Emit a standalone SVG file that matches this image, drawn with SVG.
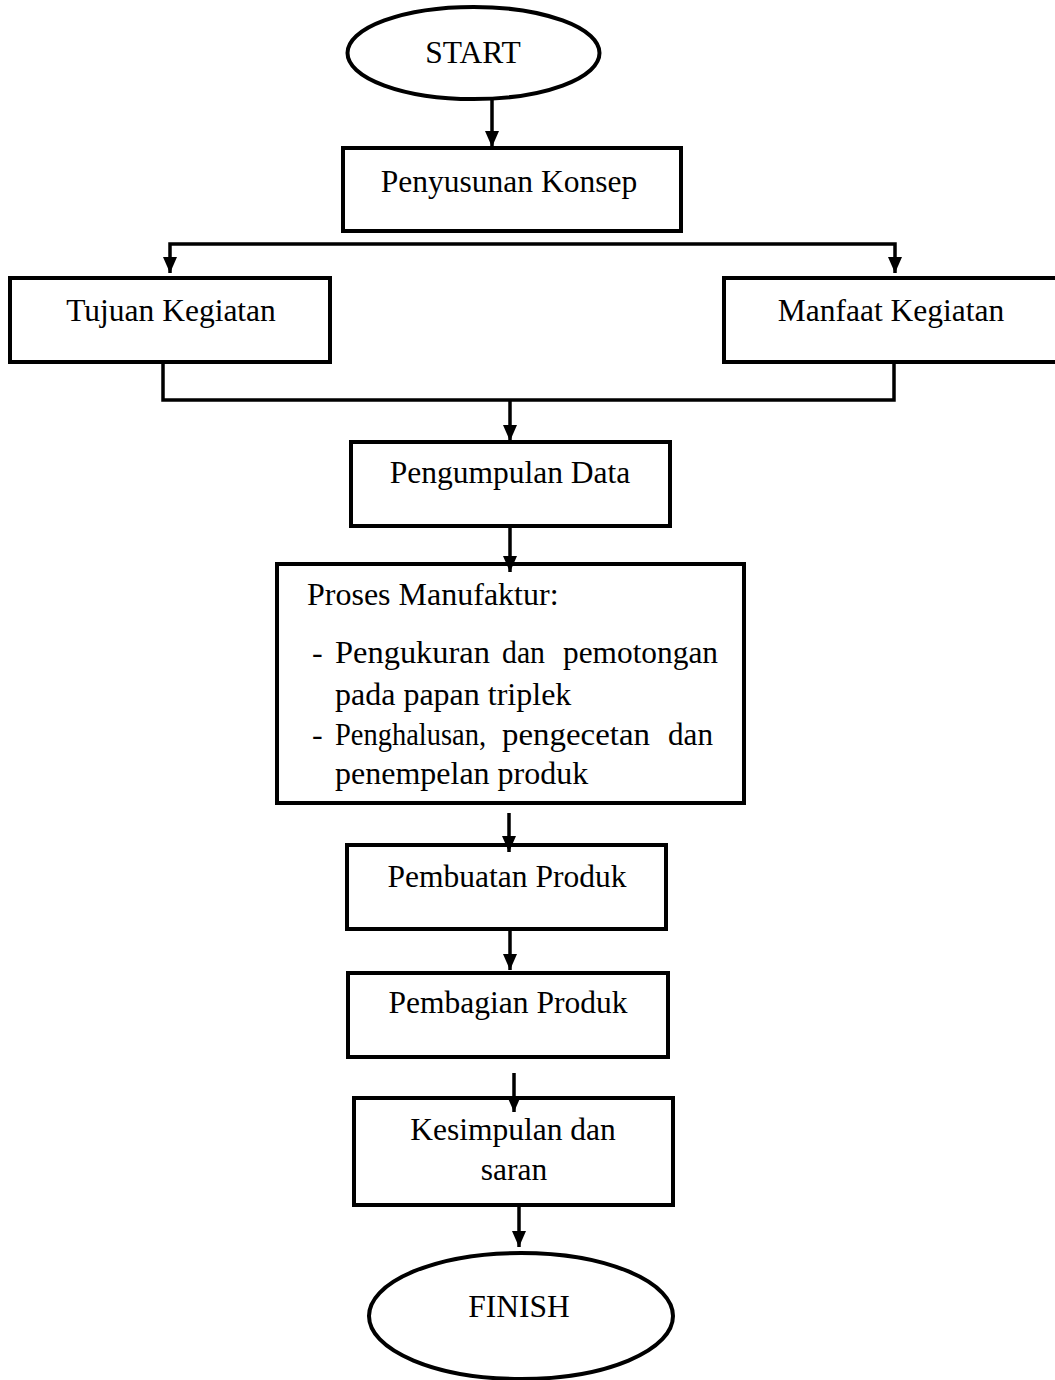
<svg xmlns="http://www.w3.org/2000/svg" width="1055" height="1380" viewBox="0 0 1055 1380">
<style>
.box{fill:#fff;stroke:#000;stroke-width:4}
.t{font-family:'Liberation Serif','Times New Roman','DejaVu Serif',serif;font-size:31.5px;fill:#000}
.p{font-size:32px}
.c{text-anchor:middle}
.ln{fill:none;stroke:#000;stroke-width:3.5}
</style>
<defs>
<marker id="ah" viewBox="0 0 16 14" refX="16" refY="7" markerWidth="16" markerHeight="14" markerUnits="userSpaceOnUse" orient="auto">
<path d="M0,0 L16,7 L0,14 z" fill="#000"/>
</marker>
</defs>
<rect width="1055" height="1380" fill="#fff"/>
<g id="start">
<ellipse class="box" cx="473.5" cy="53" rx="126" ry="46"/>
<text class="t c" x="473" y="63">START</text>
</g>
<g id="penyusunan">
<rect class="box" x="343" y="148" width="338" height="83"/>
<text class="t c" x="509" y="192">Penyusunan Konsep</text>
</g>
<g id="tujuan">
<rect class="box" x="10" y="278" width="320" height="84"/>
<text class="t c" x="171" y="321">Tujuan Kegiatan</text>
</g>
<g id="manfaat">
<rect class="box" x="724" y="278" width="340" height="84"/>
<text class="t c" x="891" y="321">Manfaat Kegiatan</text>
</g>
<g id="pengumpulan">
<rect class="box" x="351" y="442" width="319" height="84"/>
<text class="t c" x="510" y="483">Pengumpulan Data</text>
</g>
<g id="proses">
<rect class="box" x="277" y="564" width="467" height="239"/>
<text class="t p" x="307" y="605">Proses Manufaktur:</text>
<text class="t p" x="312" y="663">-</text>
<text class="t p" x="335" y="663" textLength="155" lengthAdjust="spacingAndGlyphs">Pengukuran</text>
<text class="t p" x="502" y="663" textLength="43" lengthAdjust="spacingAndGlyphs">dan</text>
<text class="t p" x="563" y="663" textLength="155" lengthAdjust="spacingAndGlyphs">pemotongan</text>
<text class="t p" x="335" y="705">pada papan triplek</text>
<text class="t p" x="312" y="745">-</text>
<text class="t p" x="335" y="745" textLength="151" lengthAdjust="spacingAndGlyphs">Penghalusan,</text>
<text class="t p" x="502" y="745" textLength="148" lengthAdjust="spacingAndGlyphs">pengecetan</text>
<text class="t p" x="668" y="745" textLength="45" lengthAdjust="spacingAndGlyphs">dan</text>
<text class="t p" x="335" y="784">penempelan produk</text>
</g>
<g id="pembuatan">
<rect class="box" x="347" y="845" width="319" height="84"/>
<text class="t c" x="507" y="887">Pembuatan Produk</text>
</g>
<g id="pembagian">
<rect class="box" x="348" y="973" width="320" height="84"/>
<text class="t c" x="508" y="1013">Pembagian Produk</text>
</g>
<g id="kesimpulan">
<rect class="box" x="354" y="1098" width="319" height="107"/>
<text class="t c" x="513" y="1140">Kesimpulan dan</text>
<text class="t c" x="514" y="1180">saran</text>
</g>
<g id="finish">
<ellipse class="box" cx="521" cy="1316" rx="152" ry="63"/>
<text class="t c" x="519" y="1317">FINISH</text>
</g>
<g id="connectors">
<path class="ln" d="M492 99 L492 147" marker-end="url(#ah)"/>
<path class="ln" d="M532 244 L170 244 L170 273" marker-end="url(#ah)"/>
<path class="ln" d="M532 244 L895 244 L895 273" marker-end="url(#ah)"/>
<path class="ln" d="M163 362 L163 400 L894 400 L894 362"/>
<path class="ln" d="M510 400 L510 441" marker-end="url(#ah)"/>
<path class="ln" d="M510 526 L510 572" marker-end="url(#ah)"/>
<path class="ln" d="M509 813 L509 852" marker-end="url(#ah)"/>
<path class="ln" d="M510 929 L510 970" marker-end="url(#ah)"/>
<path class="ln" d="M514 1073 L514 1112" marker-end="url(#ah)"/>
<path class="ln" d="M519 1207 L519 1247" marker-end="url(#ah)"/>
</g>
</svg>
